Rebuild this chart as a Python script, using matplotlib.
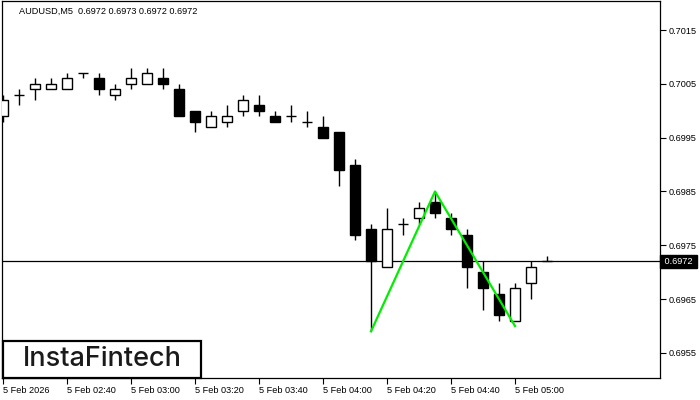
import matplotlib
matplotlib.use("Agg")
import matplotlib.pyplot as plt
from matplotlib.patches import Rectangle
from matplotlib.transforms import blended_transform_factory

# ---- data (AUDUSD M5) ----
opens  = [0.6999, 0.7003, 0.7004, 0.7004, 0.7004, 0.7007, 0.7006, 0.7003, 0.7005, 0.7005,
          0.7006, 0.7004, 0.7000, 0.6997, 0.6998, 0.7000, 0.7001, 0.6999, 0.6999, 0.6998,
          0.6997, 0.6996, 0.6990, 0.6978, 0.6971, 0.6979, 0.6980, 0.6983, 0.6980, 0.6977,
          0.6970, 0.6966, 0.6961, 0.6968, 0.6972]
highs  = [0.7003, 0.7004, 0.7006, 0.7006, 0.7007, 0.7007, 0.7007, 0.7005, 0.7008, 0.7008,
          0.7008, 0.7005, 0.7000, 0.7000, 0.7001, 0.7003, 0.7003, 0.7000, 0.7001, 0.7000,
          0.6999, 0.6996, 0.6991, 0.6979, 0.6982, 0.6980, 0.6983, 0.6985, 0.6981, 0.6978,
          0.6972, 0.6968, 0.6968, 0.6972, 0.6973]
lows   = [0.6998, 0.7001, 0.7002, 0.7004, 0.7004, 0.7006, 0.7003, 0.7002, 0.7004, 0.7005,
          0.7004, 0.6999, 0.6996, 0.6997, 0.6997, 0.6999, 0.6999, 0.6998, 0.6998, 0.6997,
          0.6995, 0.6986, 0.6976, 0.6959, 0.6971, 0.6977, 0.6979, 0.6980, 0.6977, 0.6967,
          0.6963, 0.6961, 0.6961, 0.6965, 0.6972]
closes = [0.7002, 0.7003, 0.7005, 0.7005, 0.7006, 0.7007, 0.7004, 0.7004, 0.7006, 0.7007,
          0.7005, 0.6999, 0.6998, 0.6999, 0.6999, 0.7002, 0.7000, 0.6998, 0.6999, 0.6998,
          0.6995, 0.6989, 0.6977, 0.6972, 0.6978, 0.6979, 0.6982, 0.6981, 0.6978, 0.6971,
          0.6967, 0.6962, 0.6967, 0.6971, 0.6972]

tick_idx    = [0, 4, 8, 12, 16, 20, 24, 28, 32]
tick_labels = ["5 Feb 2026", "5 Feb 02:40", "5 Feb 03:00", "5 Feb 03:20", "5 Feb 03:40",
               "5 Feb 04:00", "5 Feb 04:20", "5 Feb 04:40", "5 Feb 05:00"]
price_ticks = [0.6955, 0.6965, 0.6975, 0.6985, 0.6995, 0.7005, 0.7015]

pattern_x = [23, 27, 32]
pattern_y = [0.6959, 0.6985, 0.6960]

current_price = 0.6972
header = "AUDUSD,M5  0.6972 0.6973 0.6972 0.6972"

FONT = "Liberation Sans"
plt.rcParams["font.family"] = [FONT, "DejaVu Sans"]

fig = plt.figure(figsize=(7, 4), dpi=100)
ax = fig.add_axes([2/700, 22/400, 658/700, 377/400])

n = len(opens)
W = 0.64
for i in range(n):
    o, h, l, c = opens[i], highs[i], lows[i], closes[i]
    ax.vlines(i, l, h, color="black", lw=1.0, zorder=2)
    if o == c:
        ax.hlines(o, i - W/2, i + W/2, color="black", lw=1.0, zorder=3)
    else:
        face = "white" if c > o else "black"
        ax.bar(i, abs(c - o), bottom=min(o, c), width=W, color=face,
               edgecolor="black", linewidth=1.0, zorder=3)

ax.axhline(current_price, color="black", lw=0.9, zorder=1)
ax.plot(pattern_x, pattern_y, color="#00ee00", lw=1.6, zorder=5)

ax.set_xlim((2 - 3) / 16, (660 - 3) / 16)
ax.set_ylim(0.695034, 0.70204)

ax.set_xticks(tick_idx)
ax.set_xticklabels(tick_labels, fontsize=6.6)
for lab in ax.get_xticklabels():
    lab.set_ha("left")
ax.tick_params(axis="x", direction="out", length=4, width=0.8, pad=1.5)

ax.yaxis.tick_right()
ax.set_yticks(price_ticks)
ax.set_yticklabels([f"{p:.4f}" for p in price_ticks], fontsize=6.6)
ax.tick_params(axis="y", direction="out", length=4, width=0.8, pad=2)

for s in ax.spines.values():
    s.set_linewidth(0.9)
    s.set_color("black")

trans = blended_transform_factory(ax.transAxes, ax.transData)
ax.text(1.003, current_price, " 0.6972 ", transform=trans, ha="left", va="center",
        fontsize=6.6, color="white",
        bbox=dict(boxstyle="square,pad=0.25", fc="black", ec="black"), zorder=10,
        clip_on=False)

fig.text(19/700, 1 - 11/400, header, fontsize=6.6, ha="left", va="center")

fig.patches.append(Rectangle((3/700, 22/400), 198/700, 37/400, transform=fig.transFigure,
                             fill=True, fc="white", ec="black", lw=1.6, zorder=20))
fig.text(102/700, (400 - 359)/400, "InstaFintech", fontsize=19.5, ha="center", va="center",
         family=["Inter", "DejaVu Sans"], fontweight="medium", color="#1a1a1a", zorder=21)

fig.savefig("out.png", dpi=100, facecolor="white")
